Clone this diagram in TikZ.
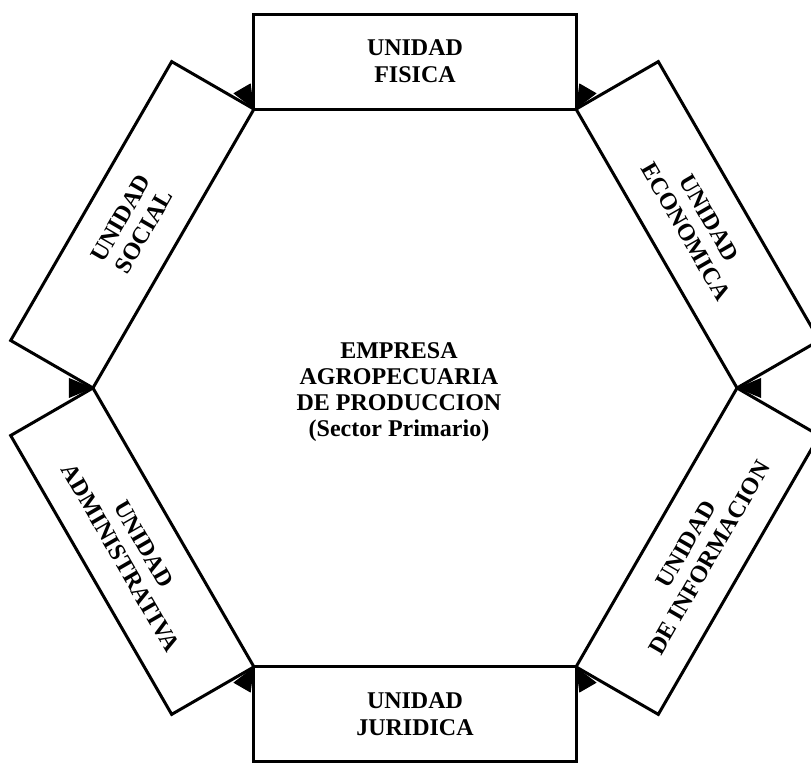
\documentclass[tikz,border=0pt]{standalone}
\usepackage{fontspec}
\setmainfont{Liberation Serif}
\usetikzlibrary{arrows.meta,positioning,calc}

\begin{document}
\begin{tikzpicture}[x=1pt,y=1pt,unitbox/.style={draw,line width=3pt,minimum width=322pt,minimum height=95pt,inner sep=0pt,align=center,font=\bfseries\fontsize{24}{27}\selectfont},tip/.style={fill=black}]
\useasboundingbox (-415,-377) rectangle (396,388);
\foreach \ang/\rot/\nm/\txt in {90/0/fis/{UNIDAD\\FISICA},30/-60/eco/{UNIDAD\\ECONOMICA},-30/60/inf/{UNIDAD\\DE INFORMACION},-90/0/jur/{UNIDAD\\JURIDICA},-150/-60/adm/{UNIDAD\\ADMINISTRATIVA},150/60/soc/{UNIDAD\\SOCIAL}}
  \node[unitbox,rotate=\rot] (\nm) at (\ang:326.4) {\txt};
% small wedges at the corners
\foreach \v in {0,60,...,300}
  \fill[tip,shift={(\v:322)},rotate=\v] (0,0) -- (24,10) -- (24,-10) -- cycle;
\node[align=center,font=\bfseries\fontsize{24}{26}\selectfont] (emp) at (-16,-4) {EMPRESA\\AGROPECUARIA\\DE PRODUCCION\\(Sector Primario)};
\end{tikzpicture}
\end{document}
